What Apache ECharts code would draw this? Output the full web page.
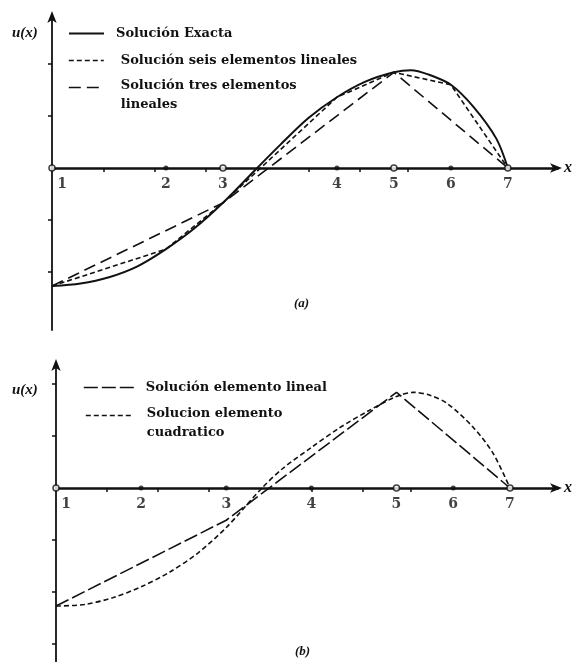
<!DOCTYPE html>
<html>
<head>
<meta charset="utf-8">
<script src="https://cdn.jsdelivr.net/npm/echarts@6/dist/echarts.min.js"></script>
<style>
html,body{margin:0;padding:0;background:#fff;}
#chart{width:582px;height:662px;}
</style>
</head>
<body>
<div id="chart"></div>
<script>
// ---------- Panel (a) data ----------
const exactX = [0, 0.5, 1.0, 1.5, 2.0, 2.5, 3.0, 3.6, 4.0, 4.5, 5.0, 5.5, 6.0, 6.3, 6.6, 7.0, 7.4, 7.8, 8.0];
const exactY = [-2.27, -2.22, -2.10, -1.89, -1.56, -1.16, -0.67, 0, 0.44, 0.96, 1.36, 1.66, 1.84, 1.88, 1.80, 1.60, 1.17, 0.56, 0];
const sixX = [0, 2, 3, 5, 6, 7, 8];
const sixY = [-2.27, -1.56, -0.67, 1.36, 1.84, 1.60, 0];
const threeX = [0, 3, 6, 8];
const threeY = [-2.27, -0.67, 1.84, 0];
const nodesA = [0, 2, 3, 5, 6, 7, 8];
const openNodesA = [0, 3, 6, 8];
const filledNodesA = [2, 5, 7];
const yTicksA = [-2, -1, 1, 2];

// ---------- Panel (b) data ----------
const linX = [0, 3, 6, 8];
const linY = [-2.27, -0.62, 1.84, 0];
const quadX = [0, 0.5, 1.0, 1.5, 2.0, 2.5, 3.0, 3.63, 4.0, 4.5, 5.0, 5.5, 6.0, 6.3, 6.6, 6.9, 7.35, 7.7, 8.0];
const quadY = [-2.27, -2.24, -2.11, -1.90, -1.62, -1.25, -0.76, 0, 0.38, 0.78, 1.16, 1.48, 1.76, 1.84, 1.78, 1.62, 1.17, 0.67, 0];
const nodesB = [0, 1.5, 3, 4.5, 6, 7, 8];
const openNodesB = [0, 6, 8];
const filledNodesB = [1.5, 3, 4.5, 7];
const yTicksB = [-3, -2, -1, 1, 2];

// small marks on the x axis (both panels)
const xMinorTicks = [0.9, 1.8, 2.7, 4.5, 5.4, 6.25];

const nodeLabels = ['1', '2', '3', '4', '5', '6', '7'];

const zip = (xs, ys) => xs.map((x, i) => [x, ys[i]]);
const onAxis = xs => xs.map(x => [x, 0]);

const INK = '#111';
const FONT = 'DejaVu Serif';

function xAxisFor(gridIndex, max) {
  return {
    type: 'value', gridIndex: gridIndex, min: 0, max: max,
    name: 'x', nameLocation: 'end', nameGap: 6,
    nameTextStyle: {fontFamily: 'Liberation Serif', fontStyle: 'italic', fontWeight: 'bold', fontSize: 16, color: INK},
    axisLine: {onZero: true, symbol: ['none', 'arrow'], symbolSize: [7, 12], symbolOffset: [0, 4], lineStyle: {color: INK, width: 2.5}},
    axisTick: {show: true, customValues: xMinorTicks, length: 4, inside: false, lineStyle: {color: INK, width: 1.5}},
    axisLabel: {show: false},
    splitLine: {show: false}
  };
}

function yAxisFor(gridIndex, min, max, ticks) {
  return {
    type: 'value', gridIndex: gridIndex, min: min, max: max,
    axisLine: {onZero: true, symbol: ['none', 'arrow'], symbolSize: [7, 12], symbolOffset: [0, 4], lineStyle: {color: INK, width: 1.8}},
    axisTick: {show: true, customValues: ticks, length: 4, inside: false, lineStyle: {color: INK, width: 1.5}},
    axisLabel: {show: false},
    splitLine: {show: false}
  };
}

function nodeLabelSeries(axisIndex, nodes) {
  return {
    name: 'etiquetas' + axisIndex, type: 'scatter', xAxisIndex: axisIndex, yAxisIndex: axisIndex,
    symbolSize: 0, silent: true, z: 6,
    data: nodes.map((x, i) => ({value: [x, 0], label: i === 0 ? {offset: [10, 0]} : {}})),
    label: {show: true, position: 'bottom', distance: 9, fontFamily: FONT, fontWeight: 'bold', fontSize: 14, color: INK,
      formatter: p => nodeLabels[p.dataIndex]}
  };
}

const legendText = {fontFamily: FONT, fontWeight: 'bold', fontSize: 13, color: INK};
const legendBase = {orient: 'vertical', itemHeight: 14, selectedMode: false, padding: 0, itemStyle: {opacity: 0}};
const richTwoLine = {
  s: {fontSize: 13, lineHeight: 15, fontFamily: FONT},
  a: {fontFamily: FONT, fontWeight: 'bold', fontSize: 13, lineHeight: 19, color: INK, padding: [0, 0, 0, 0]}
};

const option = {
  backgroundColor: '#fff',
  animation: false,
  title: [
    {text: 'u(x)', left: 12, top: 26, padding: 0, textStyle: {fontFamily: 'Liberation Serif', fontStyle: 'italic', fontWeight: 'bold', fontSize: 15, color: INK}},
    {text: '(a)', left: 294, top: 297, padding: 0, textStyle: {fontFamily: 'Liberation Serif', fontStyle: 'italic', fontWeight: 'bold', fontSize: 13, color: INK}},
    {text: 'u(x)', left: 12, top: 383, padding: 0, textStyle: {fontFamily: 'Liberation Serif', fontStyle: 'italic', fontWeight: 'bold', fontSize: 15, color: INK}},
    {text: '(b)', left: 295, top: 645, padding: 0, textStyle: {fontFamily: 'Liberation Serif', fontStyle: 'italic', fontWeight: 'bold', fontSize: 13, color: INK}}
  ],
  legend: [
    Object.assign({}, legendBase, {data: ['Solución Exacta'], left: 68, top: 27, itemWidth: 35,
      lineStyle: {color: INK, width: 2, type: 'solid'},
      textStyle: Object.assign({}, legendText, {padding: [0, 0, 0, 7]})}),
    Object.assign({}, legendBase, {data: ['Solución seis elementos lineales'], left: 68, top: 54, itemWidth: 35,
      lineStyle: {color: INK, width: 1.6, type: [5, 3]},
      textStyle: Object.assign({}, legendText, {padding: [0, 0, 0, 12]})}),
    Object.assign({}, legendBase, {data: ['Solución tres elementos lineales'], left: 68, top: 62, itemWidth: 35,
      lineStyle: {color: INK, width: 1.6, type: [12, 6]},
      formatter: n => '{s| }\n{a|' + n.replace(' lineales', '}\n{a|lineales}'),
      textStyle: Object.assign({}, legendText, {padding: [0, 0, 0, 12], rich: richTwoLine})}),
    Object.assign({}, legendBase, {data: ['Solución elemento lineal'], left: 83, top: 381, itemWidth: 50,
      lineStyle: {color: INK, width: 1.6, type: [14, 4]},
      textStyle: Object.assign({}, legendText, {padding: [0, 0, 0, 7]})}),
    Object.assign({}, legendBase, {data: ['Solucion elemento cuadratico'], left: 85, top: 390, itemWidth: 48,
      lineStyle: {color: INK, width: 1.6, type: [5, 3]},
      formatter: n => '{s| }\n{a|' + n.replace(' cuadratico', '}\n{a|cuadratico}'),
      textStyle: Object.assign({}, legendText, {padding: [0, 0, 0, 8], rich: richTwoLine})})
  ],
  grid: [
    {left: 52, top: 15, width: 506, height: 315, containLabel: false},
    {left: 56, top: 363, width: 502, height: 299, containLabel: false}
  ],
  xAxis: [xAxisFor(0, 8.88), xAxisFor(1, 8.846)],
  yAxis: [yAxisFor(0, -3.115, 2.942, yTicksA), yAxisFor(1, -3.346, 2.404, yTicksB)],
  series: [
    {name: 'Solución Exacta', type: 'line', xAxisIndex: 0, yAxisIndex: 0, data: zip(exactX, exactY), smooth: 0.3, symbol: 'none',
      lineStyle: {color: INK, width: 2}, itemStyle: {color: INK}, z: 3},
    {name: 'Solución seis elementos lineales', type: 'line', xAxisIndex: 0, yAxisIndex: 0, data: zip(sixX, sixY), symbol: 'none',
      lineStyle: {color: INK, width: 1.6, type: [5, 3]}, itemStyle: {color: INK}, z: 3},
    {name: 'Solución tres elementos lineales', type: 'line', xAxisIndex: 0, yAxisIndex: 0, data: zip(threeX, threeY), symbol: 'none',
      lineStyle: {color: INK, width: 1.6, type: [12, 6]}, itemStyle: {color: INK}, z: 3},
    {name: 'nodosA-abiertos', type: 'scatter', xAxisIndex: 0, yAxisIndex: 0, data: onAxis(openNodesA), symbol: 'circle', symbolSize: 6,
      itemStyle: {color: '#fff', borderColor: INK, borderWidth: 1.5}, z: 5},
    {name: 'nodosA-llenos', type: 'scatter', xAxisIndex: 0, yAxisIndex: 0, data: onAxis(filledNodesA), symbol: 'circle', symbolSize: 5,
      itemStyle: {color: INK}, z: 5},
    nodeLabelSeries(0, nodesA),

    {name: 'Solución elemento lineal', type: 'line', xAxisIndex: 1, yAxisIndex: 1, data: zip(linX, linY), symbol: 'none',
      lineStyle: {color: INK, width: 1.6, type: [14, 4]}, itemStyle: {color: INK}, z: 3},
    {name: 'Solucion elemento cuadratico', type: 'line', xAxisIndex: 1, yAxisIndex: 1, data: zip(quadX, quadY), smooth: 0.3, symbol: 'none',
      lineStyle: {color: INK, width: 1.6, type: [5, 3]}, itemStyle: {color: INK}, z: 3},
    {name: 'nodosB-abiertos', type: 'scatter', xAxisIndex: 1, yAxisIndex: 1, data: onAxis(openNodesB), symbol: 'circle', symbolSize: 6,
      itemStyle: {color: '#fff', borderColor: INK, borderWidth: 1.5}, z: 5},
    {name: 'nodosB-llenos', type: 'scatter', xAxisIndex: 1, yAxisIndex: 1, data: onAxis(filledNodesB), symbol: 'circle', symbolSize: 5,
      itemStyle: {color: INK}, z: 5},
    nodeLabelSeries(1, nodesB)
  ]
};

const chart = echarts.init(document.getElementById('chart'), null, {renderer: 'canvas'});
chart.setOption(option);
</script>
</body>
</html>
